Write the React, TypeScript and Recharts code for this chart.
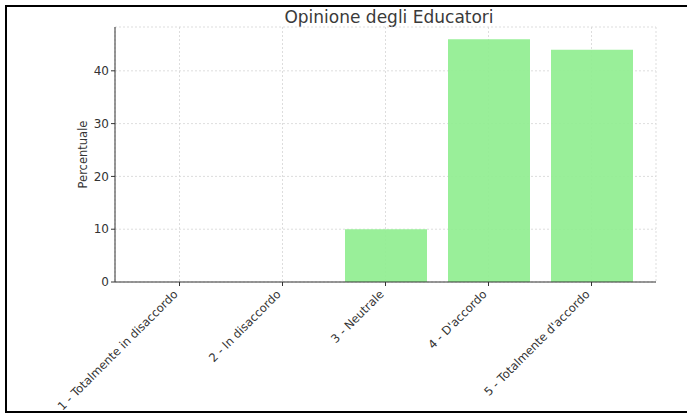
import { BarChart, Bar, XAxis, YAxis, CartesianGrid } from 'recharts';

const categories = [
  '1 - Totalmente in disaccordo',
  '2 - In disaccordo',
  '3 - Neutrale',
  "4 - D'accordo",
  "5 - Totalmente d'accordo",
];
const percentuali = [0, 0, 10, 46, 44];
const yTicks = [0, 10, 20, 30, 40];

const data = categories.map((c, i) => ({ categoria: c, percentuale: percentuali[i] }));

const FONT = '"DejaVu Sans", sans-serif';

const XTick = (props: any) => {
  const { x, y, payload } = props;
  return (
    <g transform={`translate(${x - 1},${y + 7})`}>
      <text textAnchor="end" transform="rotate(-45)" fill="#333" fontSize={11.6} fontFamily={FONT}>
        {payload.value}
      </text>
    </g>
  );
};

export default function App() {
  return (
    <div style={{ position: 'fixed', left: 0, top: 0, width: 687, height: 415, background: '#fff', overflow: 'hidden' }}>
      <div
        style={{
          position: 'absolute', left: 5, top: 5, width: 700, height: 404,
          border: '2px solid #000', boxSizing: 'content-box',
        }}
      />
      <div
        style={{
          position: 'absolute', left: 115, width: 548, top: 7, textAlign: 'center',
          fontFamily: FONT, fontSize: 17, color: '#3a3a3a', lineHeight: '20px',
        }}
      >
        Opinione degli Educatori
      </div>
      <div style={{ position: 'absolute', left: 0, top: 0 }}>
        <BarChart width={687} height={415} data={data} margin={{ top: 27, right: 31, bottom: 33, left: 0 }}>
          <CartesianGrid stroke="#d4d4d4" strokeDasharray="2 2" strokeWidth={0.8} />
          <XAxis
            dataKey="categoria"
            height={100}
            padding={{ left: 13, right: 13 }}
            interval={0}
            tick={<XTick />}
            tickSize={4}
            axisLine={{ stroke: '#333' }}
            tickLine={{ stroke: '#333' }}
          />
          <YAxis
            width={115}
            domain={[0, 48.3]}
            ticks={yTicks}
            tickSize={4}
            axisLine={{ stroke: '#333' }}
            tickLine={{ stroke: '#333' }}
            tick={{ fill: '#333', fontSize: 12, fontFamily: FONT }}
            label={{ value: 'Percentuale', angle: -90, position: 'center', dx: 25, fill: '#333', fontSize: 11.5, fontFamily: FONT }}
          />
          <Bar dataKey="percentuale" fill="#90EE90" fillOpacity={0.92} barSize={82} isAnimationActive={false} />
        </BarChart>
      </div>
    </div>
  );
}
